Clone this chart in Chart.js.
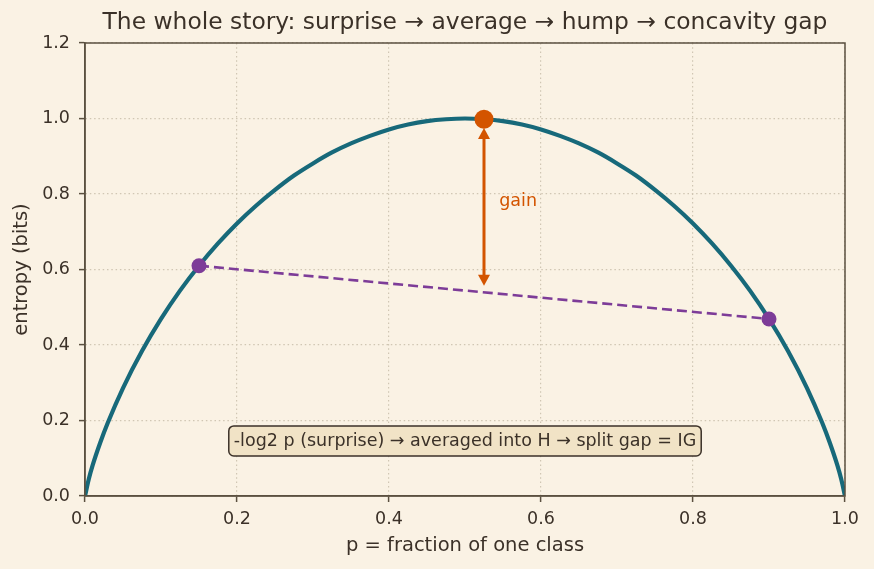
<!DOCTYPE html>
<html>
<head>
<meta charset="utf-8">
<script src="https://cdn.jsdelivr.net/npm/chart.js@4.4.1/dist/chart.umd.min.js"></script>
<style>
  html, body { margin: 0; padding: 0; background: #faf2e4; }
  #wrap { width: 874px; height: 569px; }
</style>
</head>
<body>
<div id="wrap">
  <canvas id="hChart" width="874" height="569"></canvas>
</div>

<script type="text/javascript">
    // binary entropy curve
    const curveP = [0, 0.005, 0.01, 0.02, 0.03, 0.05, 0.075, 0.1, 0.125, 0.15, 0.175, 0.2, 0.225, 0.25, 0.275, 0.3, 0.325, 0.35, 0.375, 0.4, 0.425, 0.45, 0.475, 0.5,
                    0.525, 0.55, 0.575, 0.6, 0.625, 0.65, 0.675, 0.7, 0.725, 0.75, 0.775, 0.8, 0.825, 0.85, 0.875, 0.9, 0.925, 0.95, 0.97, 0.98, 0.99, 0.995, 1];
    const curveH = [0, 0.045, 0.081, 0.141, 0.194, 0.286, 0.384, 0.469, 0.544, 0.610, 0.669, 0.722, 0.769, 0.811, 0.849, 0.881, 0.910, 0.934, 0.954, 0.971, 0.984, 0.993, 0.998, 1.0,
                    0.998, 0.993, 0.984, 0.971, 0.954, 0.934, 0.910, 0.881, 0.849, 0.811, 0.769, 0.722, 0.669, 0.610, 0.544, 0.469, 0.384, 0.286, 0.194, 0.141, 0.081, 0.045, 0];

    // the two children of the split and the parent on top
    const splitP = [0.15, 0.9];
    const splitH = [0.610, 0.469];
    const parentP = [0.525];
    const parentH = [0.998];

    // gain arrow and labels
    const arrowX = 0.525;
    const arrowTop = 0.975;
    const arrowBottom = 0.557;
    const gainLabel = { x: 0.545, y: 0.78, text: 'gain' };
    const noteLabel = { x: 0.5, y: 0.146, text: '-log2 p (surprise) \u2192 averaged into H \u2192 split gap = IG' };
    const titleText = 'The whole story: surprise \u2192 average \u2192 hump \u2192 concavity gap';

    const xTicks = [0, 0.2, 0.4, 0.6, 0.8, 1.0];
    const yTicks = [0, 0.2, 0.4, 0.6, 0.8, 1.0, 1.2];

    const INK = '#3b3128';
    const AXIS = '#5b5040';
    const GRID = '#d0c6b3';
    const TEAL = '#17697a';
    const ORANGE = '#d35400';
    const PURPLE = '#7d3c98';

    Chart.defaults.font.family = 'DejaVu Sans';
    Chart.defaults.color = INK;

    function toXY(xs, ys) {
      return xs.map((x, i) => ({ x: x, y: ys[i] }));
    }

    const extras = {
      id: 'extras',
      afterDatasetsDraw(chart) {
        const c = chart.ctx;
        const xs = chart.scales.x, ys = chart.scales.y;
        const a = chart.chartArea;

        c.save();
        // title, centred over the plot area
        c.font = '23.4px DejaVu Sans';
        c.fillStyle = INK;
        c.textAlign = 'center';
        c.textBaseline = 'middle';
        c.fillText(titleText, (a.left + a.right) / 2, 23);

        // full frame
        c.strokeStyle = AXIS;
        c.lineWidth = 1.5;
        c.strokeRect(a.left, a.top, a.right - a.left, a.bottom - a.top);

        // double headed arrow
        const ax = xs.getPixelForValue(arrowX);
        const y1 = ys.getPixelForValue(arrowTop);
        const y2 = ys.getPixelForValue(arrowBottom);
        c.strokeStyle = ORANGE;
        c.fillStyle = ORANGE;
        c.lineWidth = 3;
        c.beginPath();
        c.moveTo(ax, y1 + 6);
        c.lineTo(ax, y2 - 6);
        c.stroke();
        c.beginPath();
        c.moveTo(ax, y1); c.lineTo(ax - 6, y1 + 11); c.lineTo(ax + 6, y1 + 11); c.closePath();
        c.fill();
        c.beginPath();
        c.moveTo(ax, y2); c.lineTo(ax - 6, y2 - 11); c.lineTo(ax + 6, y2 - 11); c.closePath();
        c.fill();

        // gain text
        c.font = '17.5px DejaVu Sans';
        c.fillStyle = ORANGE;
        c.textAlign = 'left';
        c.fillText(gainLabel.text, xs.getPixelForValue(gainLabel.x), ys.getPixelForValue(gainLabel.y));

        // note box
        const tw = c.measureText(noteLabel.text).width;
        const cx = xs.getPixelForValue(noteLabel.x);
        const cy = ys.getPixelForValue(noteLabel.y);
        const bw = tw + 10, bh = 30;
        c.beginPath();
        c.roundRect(cx - bw / 2, cy - bh / 2, bw, bh, 5);
        c.fillStyle = '#f1e3c6';
        c.fill();
        c.strokeStyle = INK;
        c.lineWidth = 1.5;
        c.stroke();
        c.fillStyle = INK;
        c.textAlign = 'center';
        c.fillText(noteLabel.text, cx, cy + 1);
        c.restore();
      }
    };

    const ctx = document.getElementById('hChart').getContext('2d');
    const hChart = new Chart(ctx, {
      type: 'scatter',
      data: {
        datasets: [
          { data: toXY(curveP, curveH), showLine: true, borderColor: TEAL, borderWidth: 4.2, pointRadius: 0,
            cubicInterpolationMode: 'monotone', order: 3 },
          { data: toXY(splitP, splitH), showLine: true, borderColor: PURPLE, borderWidth: 2.6, borderDash: [10, 5],
            pointRadius: 7.5, pointBackgroundColor: PURPLE, pointBorderWidth: 0, order: 2 },
          { data: toXY(parentP, parentH), showLine: false, pointRadius: 9.5, pointBackgroundColor: ORANGE, pointBorderWidth: 0, order: 1 }
        ]
      },
      options: {
        responsive: false,
        animation: false,
        layout: { padding: { left: 0, right: 29, top: 43, bottom: 0 } },
        plugins: {
          legend: { display: false },
          tooltip: { enabled: false },
          title: { display: false }
        },
        scales: {
          x: {
            type: 'linear', min: 0, max: 1,
            afterBuildTicks: (s) => { s.ticks = xTicks.map(v => ({ value: v })); },
            afterFit: (s) => { s.height = 73; },
            ticks: { callback: v => v.toFixed(1), font: { size: 17.5 }, color: INK, padding: 7 },
            grid: { color: GRID, lineWidth: 1.2, tickColor: AXIS, tickLength: 6, tickWidth: 1.5 },
            border: { color: AXIS, width: 1.5, dash: [1.5, 2.8] },
            title: { display: true, text: 'p = fraction of one class', font: { size: 19.5 }, color: INK, padding: { bottom: 11 } }
          },
          y: {
            type: 'linear', min: 0, max: 1.2,
            afterBuildTicks: (s) => { s.ticks = yTicks.map(v => ({ value: v })); },
            afterFit: (s) => { s.width = 85; },
            ticks: { callback: v => v.toFixed(1), font: { size: 17.5 }, color: INK, padding: 9 },
            grid: { color: GRID, lineWidth: 1.2, tickColor: AXIS, tickLength: 6, tickWidth: 1.5 },
            border: { color: AXIS, width: 1.5, dash: [1.5, 2.8] },
            title: { display: true, text: 'entropy (bits)', font: { size: 19.5 }, color: INK, padding: { top: 10 } }
          }
        }
      },
      plugins: [extras]
    });
</script>
</body>
</html>
